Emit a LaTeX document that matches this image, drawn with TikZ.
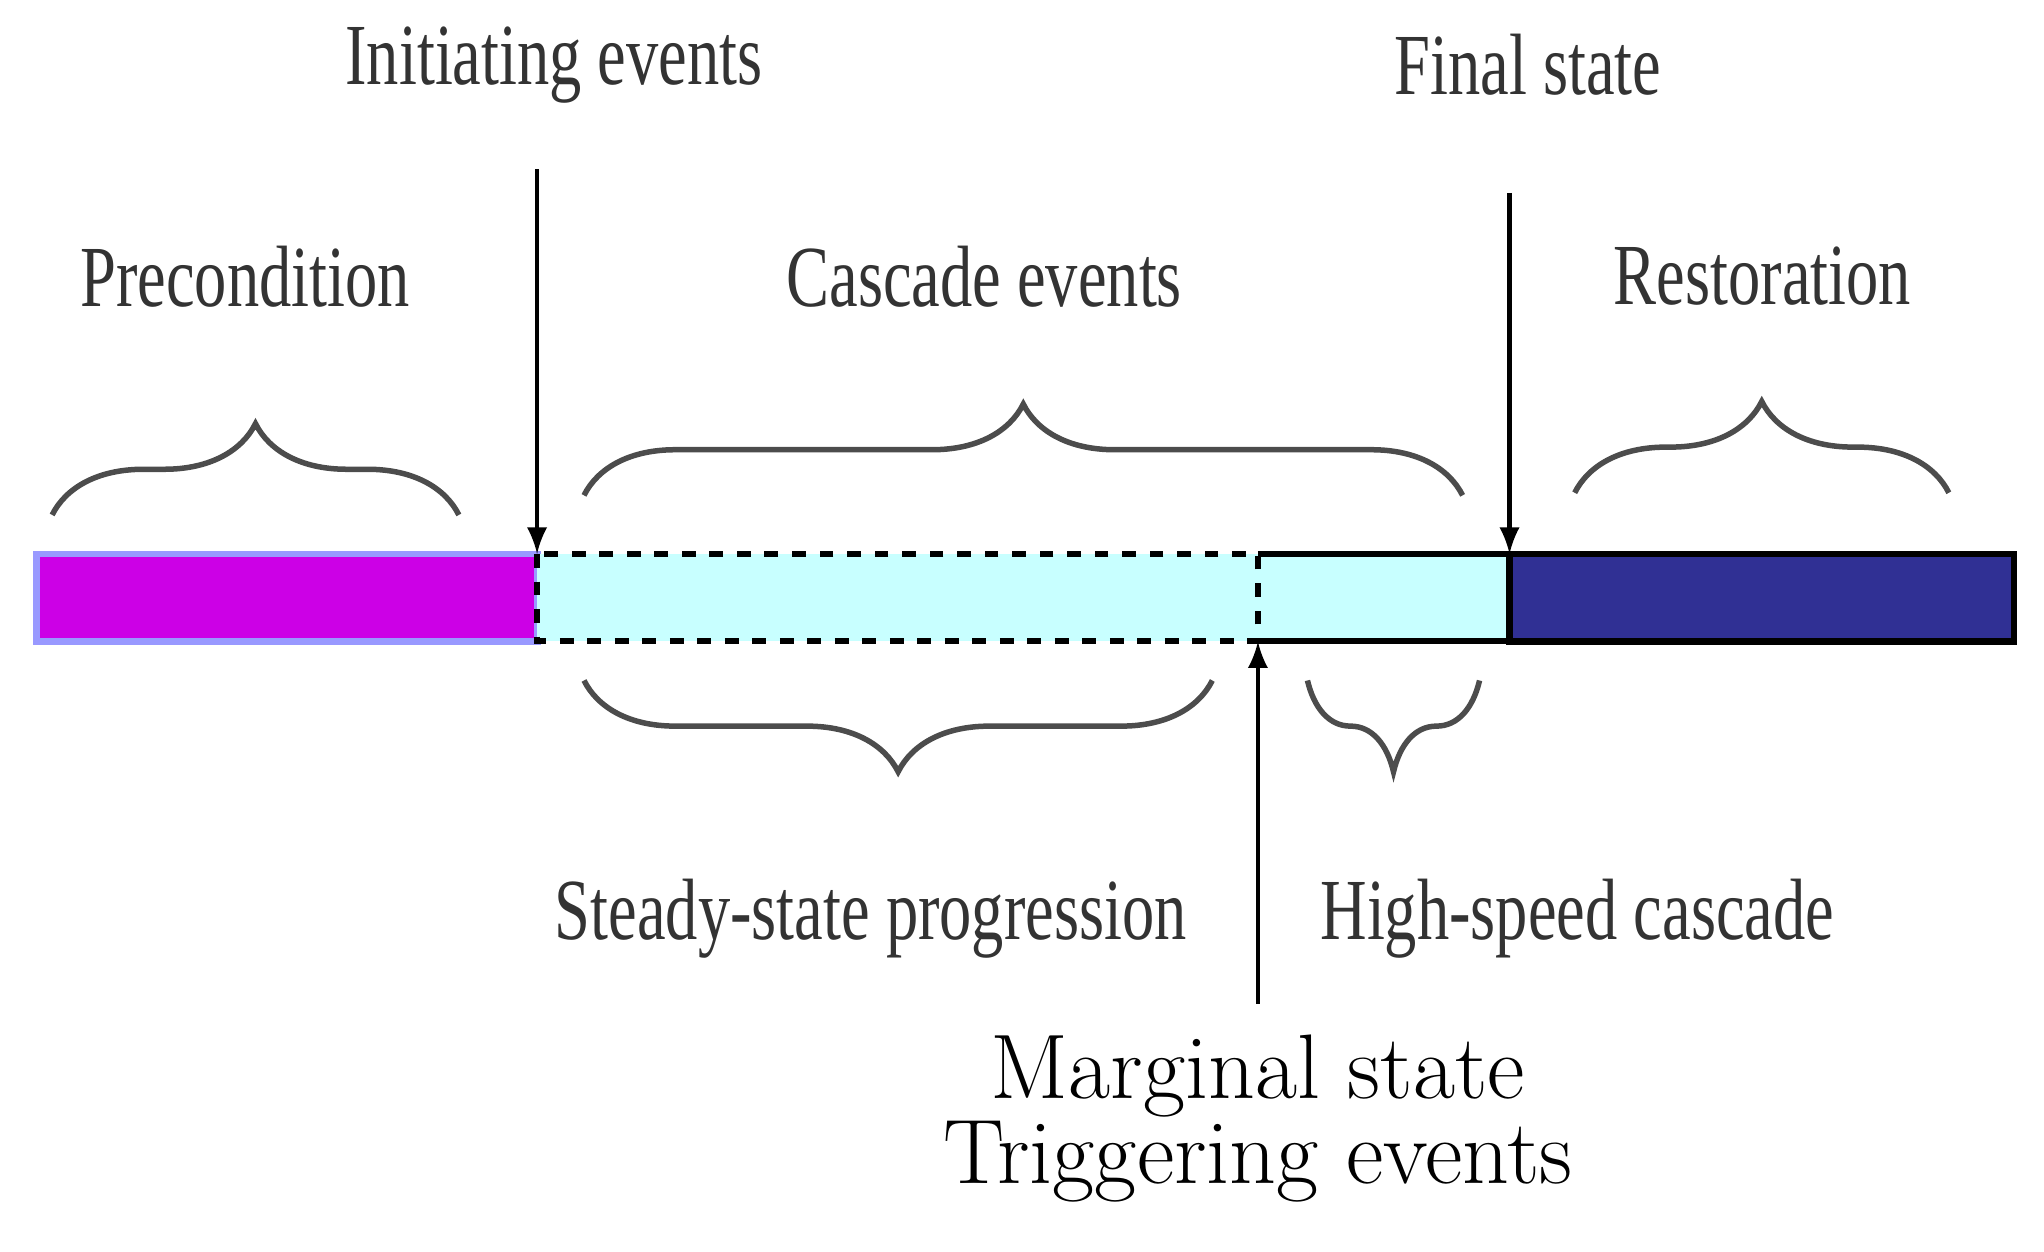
\documentclass[tikz,border=0pt]{standalone}
\usepackage{fontspec}
\newfontfamily\lab{Liberation Serif}
\usetikzlibrary{decorations.pathreplacing}
\definecolor{mag}{RGB}{204,0,230}
\definecolor{cy}{RGB}{200,255,255}
\definecolor{navy}{RGB}{48,48,148}
\begin{document}
\begin{tikzpicture}[x=0.01cm,y=-0.01cm,
  lbl/.style={font=\lab\fontsize{19}{23}\selectfont, text=black!80, xscale=0.74, inner sep=0},
  big/.style={font=\fontsize{20}{17}\selectfont, inner sep=0, align=center},
  br/.style={decorate, decoration={brace, amplitude=0.7cm}, draw=black!70, line width=1.2pt},
  arr/.style={-latex, line width=1pt}]
\useasboundingbox (0,0) rectangle (1568,960);
% bar
\fill[mag] (28,425) rectangle (412,492);
\draw[blue!40, line width=1.5pt] (28,425) rectangle (412,492);
\fill[cy] (412,425) rectangle (1158,492);
\draw[dashed, line width=1.3pt] (412,425) rectangle (965,492);
\draw[line width=1.3pt] (965,425) -- (1158,425) (965,492) -- (1158,492);
\fill[navy] (1158,425) rectangle (1545,492);
\draw[line width=1.5pt] (1158,425) rectangle (1545,492);
% labels
\node[lbl] (ini) at (425,50) {Initiating events};
\node[lbl] (fin) at (1172,50) {Final state};
\node[lbl] (pre) at (188,212) {Precondition};
\node[lbl] (cas) at (755,212) {Cascade events};
\node[lbl] (res) at (1352,212) {Restoration};
\node[lbl] (ste) at (668,705) {Steady-state progression};
\node[lbl] (hig) at (1210,705) {High-speed cascade};
\node[big] (mar) at (965,858) {Marginal state\\Triggering events};
% arrows
\coordinate (a1) at (412,130); \coordinate (a1e) at (412,425);
\coordinate (a2) at (1158,148); \coordinate (a2e) at (1158,425);
\coordinate (a3) at (965,770); \coordinate (a3e) at (965,492);
\draw[arr] (a1) -- (a1e);
\draw[arr] (a2) -- (a2e);
\draw[arr] (a3) -- (a3e);
% braces
\draw[br] (40,395) -- (352,395);
\draw[br] (448,380) -- (1122,380);
\draw[br] (1208,378) -- (1495,378);
\draw[br] (930,522) -- (448,522);
\draw[br] (1135,522) -- (1003,522);
\end{tikzpicture}
\end{document}
